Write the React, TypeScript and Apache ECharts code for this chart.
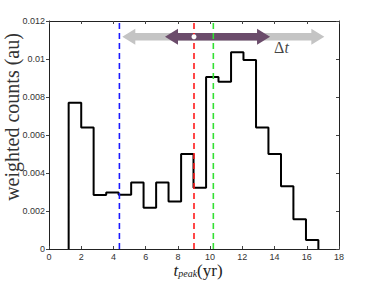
import React, { useEffect, useRef } from "react";
import * as echarts from "echarts";

const binEdges = [1.22, 2.0, 2.77, 3.55, 4.32, 5.1, 5.87, 6.65, 7.42, 8.2, 8.97, 9.75, 10.52, 11.3, 12.07, 12.85, 13.62, 14.4, 15.17, 15.95, 16.72];
const binCounts = [0.0077, 0.0064, 0.00284, 0.00298, 0.00286, 0.0035, 0.00217, 0.0035, 0.0025, 0.005, 0.00323, 0.00905, 0.0088, 0.01035, 0.00995, 0.0064, 0.005, 0.0033, 0.00156, 0.00047];
const markerNames = ["blue", "red", "green"];
const markerTimes = [4.37, 9.0, 10.2];
const arrowStarts = [4.55, 7.2];
const arrowEnds = [17.09, 13.72];
const arrowLevel = 0.01117;
const deltaLabelPos = [14.43, 0.01063];
const xTicks = [0, 2, 4, 6, 8, 10, 12, 14, 16, 18];
const yTicks = [0, 0.002, 0.004, 0.006, 0.008, 0.01, 0.012];

export default function App() {
  const ref = useRef<HTMLDivElement>(null);
  useEffect(() => {
    if (!ref.current) return;
    const chart = echarts.init(ref.current, null, { renderer: "svg" });
    const stepPts: number[][] = [[binEdges[0], 0]];
    binCounts.forEach((v, i) => {
      stepPts.push([binEdges[i], v]);
      stepPts.push([binEdges[i + 1], v]);
    });
    stepPts.push([binEdges[binEdges.length - 1], 0]);

    const markerColors: Record<string, string> = { blue: "#1a1aff", red: "#ff1a1a", green: "#33e033" };
    const arrowColors = ["#c4c4c4", "#6b4c6b"];
    const tickFont = { fontSize: 9, color: "#333", fontFamily: "Liberation Sans, Arial, sans-serif" };

    const option: any = {
      animation: false,
      backgroundColor: "#fff",
      grid: { left: 49, right: 35, top: 21, bottom: 32 },
      xAxis: [
        {
          type: "value", min: 0, max: 18, interval: 2,
          axisLine: { onZero: false, lineStyle: { color: "#222", width: 1 } },
          axisTick: { inside: true, length: 3, lineStyle: { color: "#444" } },
          axisLabel: { ...tickFont, margin: 3, formatter: (v: number) => (xTicks.includes(v) ? String(v) : "") },
          splitLine: { show: false },
        },
        {
          type: "value", min: 0, max: 18, interval: 2, position: "top",
          axisLine: { onZero: false, lineStyle: { color: "#222", width: 1 } },
          axisTick: { inside: true, length: 3, lineStyle: { color: "#444" } },
          axisLabel: { show: false }, splitLine: { show: false },
        },
      ],
      yAxis: [
        {
          type: "value", min: 0, max: 0.012, interval: 0.002,
          axisLine: { show: true, onZero: false, lineStyle: { color: "#222", width: 1 } },
          axisTick: { show: true, inside: false, length: 3, lineStyle: { color: "#444" } },
          axisLabel: { ...tickFont, margin: 4, formatter: (v: number) => {
            const t = yTicks.find((y) => Math.abs(y - v) < 1e-9);
            return t === undefined ? "" : t === 0 ? "0" : String(parseFloat(t.toFixed(3)));
          } },
          splitLine: { show: false },
        },
        {
          type: "value", min: 0, max: 0.012, interval: 0.002, position: "right",
          axisLine: { show: true, onZero: false, lineStyle: { color: "#222", width: 1 } },
          axisTick: { show: true, inside: true, length: 3, lineStyle: { color: "#444" } },
          axisLabel: { show: false }, splitLine: { show: false },
        },
      ],
      series: [
        {
          type: "custom",
          xAxisIndex: 0, yAxisIndex: 0,
          data: arrowStarts.map((s, i) => [s, arrowEnds[i], arrowLevel, i]),
          encode: { x: [0, 1], y: 2 },
          renderItem: (params: any, api: any) => {
            const a = api.coord([api.value(0), api.value(2)]);
            const b = api.coord([api.value(1), api.value(2)]);
            const y = a[1];
            const xa = a[0], xb = b[0];
            const h = 13, hw = 8, sw = 3.8;
            const pts = [
              [xa, y], [xa + h, y - hw], [xa + h, y - sw], [xb - h, y - sw], [xb - h, y - hw],
              [xb, y], [xb - h, y + hw], [xb - h, y + sw], [xa + h, y + sw], [xa + h, y + hw],
            ];
            return { type: "polygon", shape: { points: pts }, style: { fill: arrowColors[api.value(3)] } };
          },
          silent: true,
        },
        {
          type: "line",
          data: stepPts,
          symbol: "none",
          lineStyle: { color: "#000", width: 2 },
          z: 3,
        },
        ...markerTimes.map((t, i) => ({
          type: "line",
          data: [[t, 0], [t, 0.012]],
          symbol: "none",
          lineStyle: { color: markerColors[markerNames[i]], width: 1.6, type: [6, 4] },
          z: 4,
        })),
        {
          type: "scatter",
          data: [[markerTimes[1], arrowLevel]],
          symbol: "circle",
          symbolSize: 5,
          itemStyle: { color: "#fff", opacity: 1 },
          z: 5,
        },
        {
          type: "scatter",
          data: [deltaLabelPos],
          symbolSize: 0,
          label: {
            show: true, position: "inside",
            formatter: "{d|Δ}{t|t}",
            rich: {
              d: { fontFamily: "Liberation Serif, serif", fontSize: 16, color: "#111" },
              t: { fontFamily: "Liberation Serif, serif", fontStyle: "italic", fontSize: 16, color: "#111" },
            },
          },
          z: 5,
        },
      ],
      graphic: [
        {
          type: "text",
          x: 12, y: 117, rotation: Math.PI / 2,
          style: {
            text: "weighted counts (au)",
            font: "20px 'Liberation Serif', serif",
            fill: "#333",
            align: "center", verticalAlign: "middle",
          },
        },
        {
          type: "text",
          x: 198, y: 270,
          style: {
            text: "{t|t}{s|peak}{n|(yr)}",
            align: "center", verticalAlign: "middle",
            rich: {
              t: { fontFamily: "Liberation Serif, serif", fontStyle: "italic", fontSize: 17, fill: "#222" },
              s: { fontFamily: "Liberation Serif, serif", fontStyle: "italic", fontSize: 10, fill: "#222", verticalAlign: "bottom", padding: [7, 0, 0, 0] },
              n: { fontFamily: "Liberation Serif, serif", fontSize: 17, fill: "#222" },
            },
          },
        },
      ],
    };
    chart.setOption(option);
    return () => chart.dispose();
  }, []);
  return <div ref={ref} style={{ position: "fixed", left: 0, top: 0, width: 374, height: 281 }} />;
}
